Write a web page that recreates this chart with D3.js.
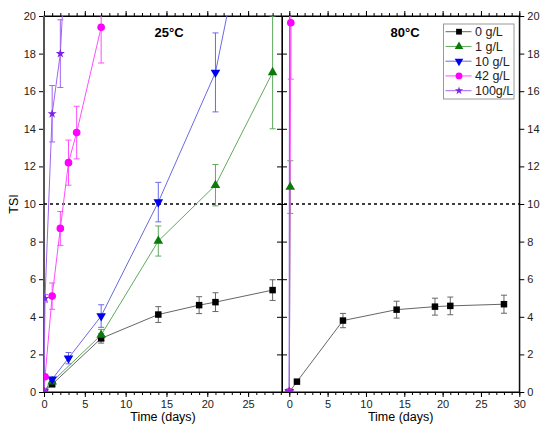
<!DOCTYPE html>
<html>
<head>
<meta charset="utf-8">
<script src="https://cdn.jsdelivr.net/npm/d3@7"></script>
<style>
  body { margin: 0; background: #fff; }
  text { font-family: "Liberation Sans", Arial, sans-serif; }
</style>
</head>
<body>
<div id="chart"></div>
<script>
// Series names / colours
const seriesNames = ["0 g/L", "1 g/L", "10 g/L", "42 g/L", "100g/L"];

// 25°C panel
const days25_0 = [0, 1, 7, 14, 19, 21, 28];
const tsi25_0 = [0, 0.41, 2.85, 4.12, 4.62, 4.78, 5.42];
const err25_0 = [0, 0.1, 0.25, 0.42, 0.45, 0.5, 0.55];

const days25_1 = [0, 1, 7, 14, 21, 28];
const tsi25_1 = [0, 0.55, 3.03, 8.03, 11.0, 17.0];
const err25_1 = [0, 0.1, 0.3, 0.8, 1.1, 3.0];

const days25_10 = [0, 1, 3, 7, 14, 21, 28];
const tsi25_10 = [0, 0.68, 1.8, 4.04, 10.1, 17.0, 32];
const err25_10 = [0, 0.1, 0.3, 0.6, 1.05, 2.1, 0];

const days25_42 = [0, 0.125, 1, 2, 3, 4, 7];
const tsi25_42 = [0, 0.81, 5.1, 8.7, 12.2, 13.8, 19.4];
const err25_42 = [0, 0.1, 0.7, 0.9, 1.2, 1.4, 1.9];

const days25_100 = [0, 0.125, 1, 2, 3];
const tsi25_100 = [0, 4.98, 14.8, 18.0, 26.3];
const err25_100 = [0, 0.2, 1.5, 1.8, 0];

// 80°C panel
const days80_0 = [0, 1, 7, 14, 19, 21, 28];
const tsi80_0 = [0, 0.55, 3.8, 4.38, 4.54, 4.58, 4.67];
const err80_0 = [0, 0.05, 0.38, 0.45, 0.45, 0.47, 0.48];

const days80_1 = [0, 0.125];
const tsi80_1 = [0, 10.9];
const err80_1 = [0, 1.4];

const days80_10 = [0, 0.05];
const tsi80_10 = [0, 30];
const err80_10 = [0, 0];

const days80_42 = [0, 0.2];
const tsi80_42 = [0, 19.64];
const err80_42 = [0, 3.0];

const days80_100 = [0, 0.04];
const tsi80_100 = [0, 30];
const err80_100 = [0, 0];

const yTicks = [0, 2, 4, 6, 8, 10, 12, 14, 16, 18, 20];
const xTicksMajor25 = [0, 5, 10, 15, 20, 25];
const xTicksMajor80 = [0, 5, 10, 15, 20, 25, 30];
const threshold = 10;

function zipSeries(days, vals, errs) {
    return days.map((d, i) => ({ x: d, y: vals[i], e: errs[i] }));
}

const panel25 = [
    zipSeries(days25_0, tsi25_0, err25_0),
    zipSeries(days25_1, tsi25_1, err25_1),
    zipSeries(days25_10, tsi25_10, err25_10),
    zipSeries(days25_42, tsi25_42, err25_42),
    zipSeries(days25_100, tsi25_100, err25_100)
];
const panel80 = [
    zipSeries(days80_0, tsi80_0, err80_0),
    zipSeries(days80_1, tsi80_1, err80_1),
    zipSeries(days80_10, tsi80_10, err80_10),
    zipSeries(days80_42, tsi80_42, err80_42),
    zipSeries(days80_100, tsi80_100, err80_100)
];

// Styles
const markColor = ["#000000", "#0b7a0b", "#0000ee", "#ff00ff", "#7a22e6"];
const lineColor = ["#666666", "#5faa5f", "#6a6ae8", "#ff4dff", "#a064f0"];
const symbols = [d3.symbolSquare, d3.symbolTriangle, d3.symbolTriangle, d3.symbolCircle, d3.symbolStar];
const symSize = [42, 40, 40, 46, 26];
const symRotate = [0, 0, 180, 0, 0];

const width = 550, height = 437;
const yTop = 16, yBot = 392;
const leftX0 = 44, midX = 282, rightX1 = 519.3;

const svg = d3.select("#chart").append("svg")
    .attr("width", width)
    .attr("height", height);

const y = d3.scaleLinear().domain([0, 20]).range([yBot, yTop]);
const x25 = d3.scaleLinear().domain([0, 29.15]).range([leftX0, midX]);
const x80 = d3.scaleLinear().domain([-0.95, 30]).range([midX, rightX1]);

// clip paths
const defs = svg.append("defs");
defs.append("clipPath").attr("id", "clip25").append("rect")
    .attr("x", leftX0).attr("y", yTop).attr("width", midX - leftX0).attr("height", yBot - yTop);
defs.append("clipPath").attr("id", "clip80").append("rect")
    .attr("x", midX).attr("y", yTop).attr("width", rightX1 - midX).attr("height", yBot - yTop);

function drawAxesX(x, major, minorRange) {
    // bottom minor
    svg.append("g")
        .attr("transform", `translate(0,${yBot})`)
        .call(d3.axisBottom(x).tickValues(minorRange).tickSize(3).tickFormat("").tickSizeOuter(0));
    // bottom major
    svg.append("g")
        .attr("class", "xaxis")
        .attr("transform", `translate(0,${yBot})`)
        .call(d3.axisBottom(x).tickValues(major).tickSize(5).tickPadding(3).tickSizeOuter(0));
    // top
    svg.append("g")
        .attr("transform", `translate(0,${yTop})`)
        .call(d3.axisTop(x).tickValues(minorRange).tickSize(3).tickFormat("").tickSizeOuter(0));
    svg.append("g")
        .attr("transform", `translate(0,${yTop})`)
        .call(d3.axisTop(x).tickValues(major).tickSize(5).tickFormat("").tickSizeOuter(0));
}

drawAxesX(x25, xTicksMajor25, d3.range(0, 30));
drawAxesX(x80, xTicksMajor80, d3.range(0, 31));

// y axes
svg.append("g")
    .attr("class", "yaxis")
    .attr("transform", `translate(${leftX0},0)`)
    .call(d3.axisLeft(y).tickValues(yTicks).tickSize(5).tickPadding(3).tickSizeOuter(0));
svg.append("g")
    .attr("class", "yaxis")
    .attr("transform", `translate(${rightX1},0)`)
    .call(d3.axisRight(y).tickValues(yTicks).tickSize(5).tickPadding(3).tickSizeOuter(0));
// divider ticks crossing
svg.append("g")
    .attr("transform", `translate(${midX},0)`)
    .call(d3.axisLeft(y).tickValues(yTicks).tickSize(5).tickFormat("").tickSizeOuter(0));
svg.append("g")
    .attr("transform", `translate(${midX},0)`)
    .call(d3.axisRight(y).tickValues(yTicks).tickSize(5).tickFormat("").tickSizeOuter(0));

svg.selectAll(".tick text").style("font-size", "11px").attr("fill", "#222");
svg.selectAll(".domain").attr("stroke", "#000");

// frame
svg.append("rect")
    .attr("x", leftX0).attr("y", yTop)
    .attr("width", rightX1 - leftX0).attr("height", yBot - yTop)
    .attr("fill", "none").attr("stroke", "#000").attr("stroke-width", 1);
svg.append("line")
    .attr("x1", midX).attr("x2", midX).attr("y1", yTop).attr("y2", yBot)
    .attr("stroke", "#000").attr("stroke-width", 1.2);
svg.append("line")
    .attr("x1", leftX0).attr("x2", leftX0).attr("y1", yTop).attr("y2", yBot)
    .attr("stroke", "#555").attr("stroke-width", 2);

// threshold dashed line
svg.append("line")
    .attr("x1", leftX0).attr("x2", rightX1)
    .attr("y1", y(threshold)).attr("y2", y(threshold))
    .attr("stroke", "#000").attr("stroke-width", 1.5)
    .attr("stroke-dasharray", "3,3");

function drawPanel(series, x, clipId) {
    const g = svg.append("g").attr("clip-path", `url(#${clipId})`);
    const line = d3.line().x(d => x(d.x)).y(d => y(d.y));

    series.forEach((data, i) => {
        // lines
        g.append("path")
            .datum(data)
            .attr("fill", "none")
            .attr("stroke", lineColor[i])
            .attr("stroke-width", 1)
            .attr("d", line);

        // error bars
        const eb = g.append("g").attr("stroke", lineColor[i]).attr("stroke-width", 1);
        data.filter(d => d.e > 0).forEach(d => {
            eb.append("line")
                .attr("x1", x(d.x)).attr("x2", x(d.x))
                .attr("y1", y(d.y - d.e)).attr("y2", y(d.y + d.e));
            [d.y - d.e, d.y + d.e].forEach(v => {
                eb.append("line")
                    .attr("x1", x(d.x) - 3).attr("x2", x(d.x) + 3)
                    .attr("y1", y(v)).attr("y2", y(v));
            });
        });
    });

    series.forEach((data, i) => {
        g.selectAll(null)
            .data(data)
            .enter().append("path")
            .attr("d", d3.symbol().type(symbols[i]).size(symSize[i]))
            .attr("transform", d => `translate(${x(d.x)},${y(d.y)}) rotate(${symRotate[i]})`)
            .attr("fill", markColor[i]);
    });
}

drawPanel(panel25, x25, "clip25");
drawPanel(panel80, x80, "clip80");

// panel titles
svg.append("text")
    .attr("x", (leftX0 + midX) / 2 + 6).attr("y", 37)
    .attr("text-anchor", "middle")
    .style("font-size", "13px").style("font-weight", "bold")
    .text("25°C");
svg.append("text")
    .attr("x", 405).attr("y", 37)
    .attr("text-anchor", "middle")
    .style("font-size", "13px").style("font-weight", "bold")
    .text("80°C");

// axis labels
svg.append("text")
    .attr("x", (leftX0 + midX) / 2).attr("y", 421)
    .attr("text-anchor", "middle")
    .style("font-size", "12.5px")
    .text("Time (days)");
svg.append("text")
    .attr("x", (midX + rightX1) / 2).attr("y", 421)
    .attr("text-anchor", "middle")
    .style("font-size", "12.5px")
    .text("Time (days)");
svg.append("text")
    .attr("transform", "rotate(-90)")
    .attr("x", -(yTop + yBot) / 2).attr("y", 18)
    .attr("text-anchor", "middle")
    .style("font-size", "12.5px")
    .text("TSI");

// legend
const legend = svg.append("g").attr("transform", "translate(443.5,24)");
legend.append("rect")
    .attr("width", 70.5).attr("height", 75)
    .attr("fill", "#fff").attr("stroke", "#999").attr("stroke-width", 1);
seriesNames.forEach((name, i) => {
    const ly = 7.7 + i * 14.75;
    legend.append("line")
        .attr("x1", 2).attr("x2", 28).attr("y1", ly).attr("y2", ly)
        .attr("stroke", lineColor[i]).attr("stroke-width", 1);
    legend.append("path")
        .attr("d", d3.symbol().type(symbols[i]).size(symSize[i] * 0.8))
        .attr("transform", `translate(15.5,${ly}) rotate(${symRotate[i]})`)
        .attr("fill", markColor[i]);
    legend.append("text")
        .attr("x", 31.5).attr("y", ly + 4.5)
        .style("font-size", "12.5px")
        .attr("fill", "#222")
        .text(name);
});
</script>
</body>
</html>
